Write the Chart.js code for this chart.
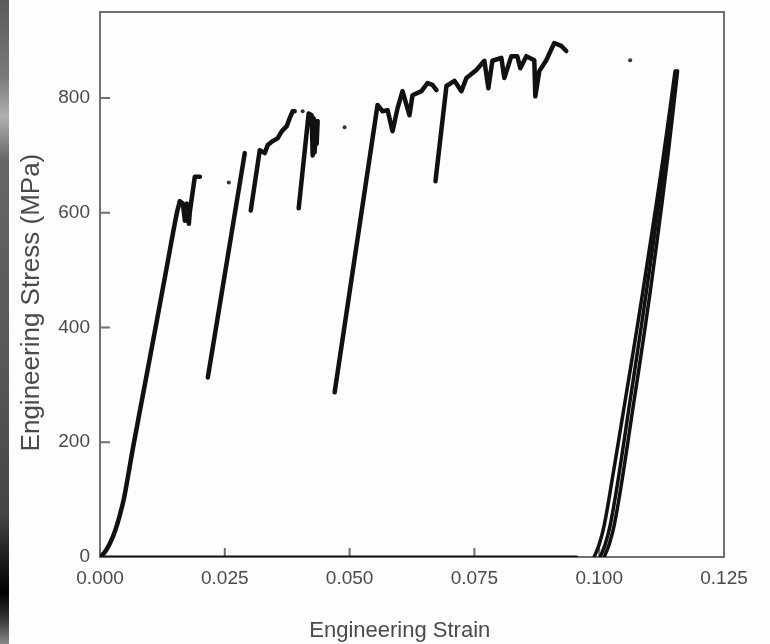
<!DOCTYPE html>
<html>
<head>
<meta charset="utf-8">
<script src="https://cdn.jsdelivr.net/npm/chart.js@4.4.1/dist/chart.umd.min.js"></script>
<style>
  html, body { margin: 0; padding: 0; background: #fdfdfd; }
  #wrap { position: relative; width: 770px; height: 644px; }
  #strip {
    position: absolute; left: 0; top: 0; width: 9px; height: 644px;
    background: linear-gradient(to bottom, #5a5a5a 0%, #7a7a7a 12%, #b0b0b0 18%, #666 25%, #555 60%, #444 80%, #222 86%, #000 92%, #333 96%, #888 100%);
  }
</style>
</head>
<body>
<div id="wrap">
  <canvas id="chart" width="770" height="644"></canvas>
  <div id="strip"></div>
</div>
<script>
// tick values
const xTicks = [0, 0.025, 0.05, 0.075, 0.1, 0.125];
const yTicks = [0, 200, 400, 600, 800];

// first loading: smooth toe, then the serrated top
const toeStrain = [0, 0.001, 0.002, 0.003, 0.004, 0.0048, 0.0056, 0.0066, 0.0088, 0.011, 0.0132, 0.0154, 0.016];
const toeStress = [0, 9, 24, 45, 74, 102, 140, 190, 292, 394, 497, 600, 620];

const load1Strain = [0.016, 0.0166, 0.017, 0.0174, 0.0178, 0.018, 0.019, 0.020];
const load1Stress = [620, 616, 586, 616, 581, 602, 663, 663];

const load2Strain = [0.0216, 0.029];
const load2Stress = [313, 704];

const load3Strain = [0.0302, 0.032, 0.033, 0.0336, 0.0346, 0.0356, 0.0364, 0.0374, 0.038, 0.0386, 0.039];
const load3Stress = [604, 709, 704, 718, 725, 730, 742, 751, 765, 777, 777];

const load4Strain = [0.0398, 0.0418, 0.0424, 0.0426, 0.0428, 0.043, 0.0432, 0.0434, 0.0436];
const load4Stress = [608, 773, 770, 700, 765, 705, 760, 720, 760];

const load5Strain = [0.047, 0.0556, 0.0566, 0.0576, 0.0586, 0.0596, 0.0606, 0.062, 0.0626, 0.0644, 0.0656, 0.0666, 0.0674];
const load5Stress = [287, 788, 777, 779, 742, 782, 812, 770, 805, 812, 826, 823, 814];

const load6Strain = [0.0672, 0.0694, 0.071, 0.0724, 0.0734, 0.0754, 0.077, 0.0778, 0.0786, 0.0804, 0.081, 0.0824, 0.0836, 0.0842, 0.0854, 0.087, 0.0872, 0.088, 0.0894, 0.091, 0.0924, 0.0934];
const load6Stress = [655, 821, 830, 812, 835, 849, 865, 817, 865, 870, 835, 873, 873, 852, 873, 866, 803, 847, 866, 896, 891, 882];

// three reload lines at the right
const reloadAStrain = [0.099, 0.1, 0.101, 0.1026, 0.105, 0.1076, 0.1102, 0.1128, 0.1152];
const reloadBStrain = [0.1002, 0.1012, 0.1022, 0.1038, 0.106, 0.1084, 0.1108, 0.1132, 0.1155];
const reloadCStrain = [0.101, 0.102, 0.103, 0.1046, 0.1068, 0.1092, 0.1115, 0.1137, 0.1157];
const reloadStress = [0, 22, 55, 135, 262, 400, 545, 695, 847];

const zeroStrain = [0, 0.0955];
const zeroStress = [0, 0];

// loose points
const dotStrain = [0.0258, 0.049, 0.0406, 0.1062];
const dotStress = [653, 749, 777, 866];

const zip = (xs, ys) => xs.map((v, i) => ({ x: v, y: ys[i] }));

const lineSet = (xs, ys, w, smooth) => ({
  data: zip(xs, ys),
  showLine: true,
  borderColor: '#111',
  borderWidth: w || 4.5,
  pointRadius: 0,
  tension: smooth ? 0.4 : 0,
  borderJoinStyle: 'round',
  borderCapStyle: 'round'
});

const framePlugin = {
  id: 'frame',
  beforeDraw(chart) {
    const ctx = chart.ctx;
    ctx.save();
    ctx.fillStyle = '#fdfdfd';
    ctx.fillRect(0, 0, chart.width, chart.height);
    ctx.restore();
  },
  beforeDatasetsDraw(chart) {
    const { ctx, chartArea: a, scales: { x, y } } = chart;
    ctx.save();
    ctx.strokeStyle = '#707070';
    ctx.lineWidth = 2;
    ctx.strokeRect(a.left, a.top, a.right - a.left, a.bottom - a.top);
    ctx.beginPath();
    xTicks.forEach(v => {
      const px = x.getPixelForValue(v);
      ctx.moveTo(px, a.bottom);
      ctx.lineTo(px, a.bottom - 9);
    });
    yTicks.forEach(v => {
      const py = y.getPixelForValue(v);
      ctx.moveTo(a.left, py);
      ctx.lineTo(a.left + 10, py);
    });
    ctx.stroke();
    ctx.restore();
  }
};

const textColor = '#4a4a4a';

new Chart(document.getElementById('chart'), {
  type: 'scatter',
  data: {
    datasets: [
      lineSet(zeroStrain, zeroStress, 3),
      lineSet(toeStrain, toeStress, 4.5, true),
      lineSet(load1Strain, load1Stress),
      lineSet(load2Strain, load2Stress),
      lineSet(load3Strain, load3Stress),
      lineSet(load4Strain, load4Stress),
      lineSet(load5Strain, load5Stress),
      lineSet(load6Strain, load6Stress),
      lineSet(reloadAStrain, reloadStress, 3.5, true),
      lineSet(reloadBStrain, reloadStress, 3.5, true),
      lineSet(reloadCStrain, reloadStress, 3.5, true),
      {
        data: zip(dotStrain, dotStress),
        showLine: false,
        pointRadius: 2,
        pointBackgroundColor: '#333',
        pointBorderWidth: 0
      }
    ]
  },
  options: {
    responsive: false,
    animation: false,
    layout: { padding: { top: 12, right: 46, left: 0, bottom: 0 } },
    plugins: {
      legend: { display: false },
      tooltip: { enabled: false }
    },
    scales: {
      x: {
        type: 'linear',
        min: 0,
        max: 0.125,
        afterFit: s => { s.height = 87; s.paddingLeft = 0; s.paddingRight = 0; },
        afterBuildTicks: s => { s.ticks = xTicks.map(v => ({ value: v })); },
        grid: { display: false, drawTicks: false },
        border: { display: false },
        ticks: {
          padding: 10,
          color: textColor,
          font: { family: 'Liberation Sans', size: 19 },
          callback: v => v.toFixed(3)
        },
        title: {
          display: true,
          text: 'Engineering Strain    ',
          color: textColor,
          font: { family: 'Liberation Sans', size: 22 },
          padding: { top: 18, bottom: 0 }
        }
      },
      y: {
        type: 'linear',
        min: 0,
        max: 950,
        afterFit: s => { s.width = 100; s.paddingTop = 0; s.paddingBottom = 0; },
        afterBuildTicks: s => { s.ticks = yTicks.map(v => ({ value: v })); },
        grid: { display: false, drawTicks: false },
        border: { display: false },
        ticks: {
          padding: 10,
          color: textColor,
          font: { family: 'Liberation Sans', size: 19 },
          callback: v => String(v)
        },
        title: {
          display: true,
          text: 'Engineering Stress (MPa)     ',
          color: textColor,
          font: { family: 'Liberation Sans', size: 26 },
          padding: { top: 16, bottom: 0 }
        }
      }
    }
  },
  plugins: [framePlugin]
});
</script>
</body>
</html>
